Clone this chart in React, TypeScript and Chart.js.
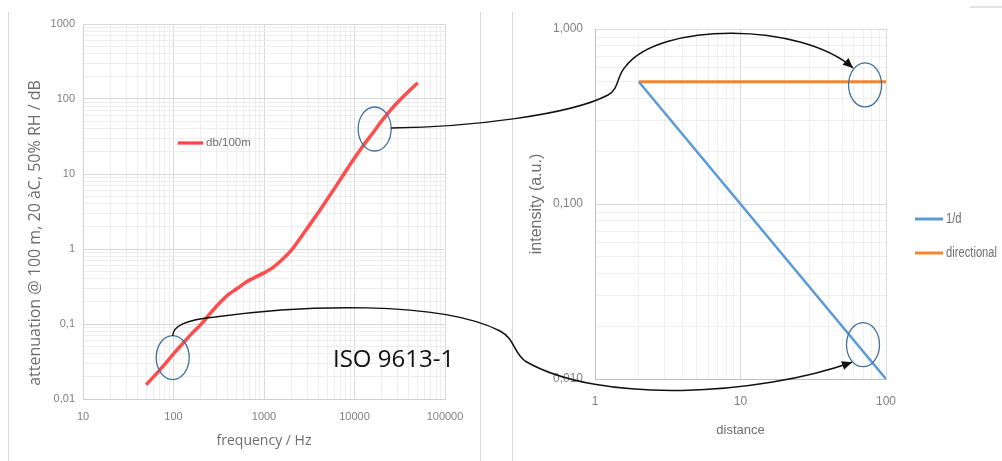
import React, { useEffect, useRef } from 'react';
import { Chart, registerables } from 'chart.js';

Chart.register(...registerables);
Chart.defaults.font.family = '"Liberation Sans", Arial, sans-serif';

// ---------- data: left chart (ISO 9613-1 attenuation) ----------
const FREQ_HZ = [50, 63, 80, 100, 125, 160, 200, 250, 315, 400, 500, 630, 800, 1000, 1250, 1600, 2000, 2500, 3150, 4000, 5000, 6300, 8000, 10000, 12500, 16000, 20000, 25000, 31500, 40000, 50000];
const ATTEN_DB_PER_100M = [0.0155, 0.021, 0.029, 0.04, 0.054, 0.075, 0.098, 0.135, 0.185, 0.245, 0.295, 0.36, 0.42, 0.48, 0.565, 0.73, 0.96, 1.38, 2.05, 3.08, 4.6, 7.0, 10.9, 16.3, 24, 35.5, 51, 71, 96, 128, 165];
const LEFT_SERIES_LABEL = 'db/100m';
const LEFT_X_TICKS = [10, 100, 1000, 10000, 100000];
const LEFT_X_LABELS = ['10', '100', '1000', '10000', '100000'];
const LEFT_Y_TICKS = [0.01, 0.1, 1, 10, 100, 1000];
const LEFT_Y_LABELS = ['0,01', '0,1', '1', '10', '100', '1000'];
const LEFT_X_TITLE = 'frequency / Hz';
const LEFT_Y_TITLE = 'attenuation @ 100 m, 20 àC, 50% RH / dB';

// ---------- data: right chart (intensity vs distance) ----------
const DISTANCE = [2, 100];
const INV_D = [0.5, 0.01];
const DIRECTIONAL = [0.5, 0.5];
const RIGHT_SERIES_LABELS = ['1/d', 'directional'];
const RIGHT_X_TICKS = [1, 10, 100];
const RIGHT_X_LABELS = ['1', '10', '100'];
const RIGHT_Y_TICKS = [0.01, 0.1, 1];
const RIGHT_Y_LABELS = ['0,010', '0,100', '1,000'];
const RIGHT_X_TITLE = 'distance';
const RIGHT_Y_TITLE = 'intensity (a.u.)';

// ---------- annotation anchors (data coordinates) ----------
const MARK_HIGH_FREQ = [16700, 39.8];
const MARK_LOW_FREQ = [98, 0.0357];
const MARK_DIRECTIONAL = [71.8, 0.479];
const MARK_SPHERICAL = [69.5, 0.0157];
const ANNOTATION_TEXT = 'ISO 9613-1';

const RIGHT_OFFSET = 512;

function logGrid(min: number, max: number) {
  const out: number[] = [];
  const e0 = Math.round(Math.log10(min));
  const e1 = Math.round(Math.log10(max));
  for (let e = e0; e < e1; e++) for (let m = 1; m < 10; m++) out.push(m * Math.pow(10, e));
  out.push(max);
  return out;
}
function isDecade(v: number) {
  const l = Math.log10(v);
  return Math.abs(l - Math.round(l)) < 1e-6;
}
function labelFor(v: number, ticks: number[], labels: string[]) {
  for (let i = 0; i < ticks.length; i++) {
    if (Math.abs(Math.log10(v) - Math.log10(ticks[i])) < 1e-6) return labels[i];
  }
  return '';
}
const gridColor = (major: string, minor: string) => (ctx: any) =>
  ctx.tick && isDecade(ctx.tick.value) ? major : minor;

const leftPlugin = {
  id: 'leftExtras',
  afterDraw(chart: any) {
    const { ctx } = chart;
    ctx.save();
    ctx.translate(35, 233);
    ctx.rotate(-Math.PI / 2);
    ctx.textAlign = 'center';
    ctx.textBaseline = 'middle';
    ctx.font = '16px "Open Sans", sans-serif';
    ctx.fillStyle = '#6e6e6e';
    ctx.fillText(LEFT_Y_TITLE, 0, 0);
    ctx.restore();
    // legend
    const ds = chart.data.datasets[0];
    ctx.save();
    ctx.lineCap = 'butt';
    ctx.strokeStyle = '#ff8a8a';
    ctx.lineWidth = 4;
    ctx.beginPath();
    ctx.moveTo(178, 143);
    ctx.lineTo(203, 143);
    ctx.stroke();
    ctx.strokeStyle = '#ff4545';
    ctx.lineWidth = 2;
    ctx.beginPath();
    ctx.moveTo(178, 143);
    ctx.lineTo(203, 143);
    ctx.stroke();
    ctx.font = '11.5px "Liberation Sans", sans-serif';
    ctx.fillStyle = '#6e6e6e';
    ctx.textAlign = 'left';
    ctx.textBaseline = 'middle';
    ctx.fillText(ds.label, 206, 143);
    ctx.restore();
  },
};

const rightPlugin = {
  id: 'rightExtras',
  afterDraw(chart: any) {
    const { ctx } = chart;
    const ys = [219, 253];
    ctx.save();
    chart.data.datasets.forEach((ds: any, i: number) => {
      ctx.strokeStyle = ds.borderColor;
      ctx.lineWidth = 3;
      ctx.beginPath();
      ctx.moveTo(403, ys[i]);
      ctx.lineTo(431, ys[i]);
      ctx.stroke();
      ctx.save();
      ctx.translate(434, ys[i]);
      ctx.scale(0.8, 1);
      ctx.font = '14px "Liberation Sans", sans-serif';
      ctx.fillStyle = '#6e6e6e';
      ctx.textAlign = 'left';
      ctx.textBaseline = 'middle';
      ctx.fillText(ds.label, 0, 0);
      ctx.restore();
    });
    ctx.restore();
  },
};

function leftConfig(): any {
  return {
    type: 'line',
    data: {
      datasets: [
        {
          label: LEFT_SERIES_LABEL,
          data: FREQ_HZ.map((f, i) => ({ x: f, y: ATTEN_DB_PER_100M[i] })),
          borderColor: '#ff4d4d',
          borderWidth: 3.5,
          pointRadius: 0,
          cubicInterpolationMode: 'monotone',
          fill: false,
        },
      ],
    },
    options: {
      animation: false,
      responsive: false,
      layout: { padding: { left: 0, right: 35, top: 24, bottom: 0 } },
      plugins: { legend: { display: false }, tooltip: { enabled: false } },
      scales: {
        x: {
          type: 'logarithmic',
          min: 10,
          max: 100000,
          afterBuildTicks: (s: any) => { s.ticks = logGrid(10, 100000).map((v) => ({ value: v })); },
          afterFit: (s: any) => { s.height = 62; },
          grid: { color: gridColor('#d9d9d9', '#eeeeee'), drawTicks: false },
          border: { color: '#cfcfcf' },
          ticks: {
            autoSkip: false, maxRotation: 0, padding: 11, color: '#808080',
            font: { size: 11 },
            callback: (v: number) => labelFor(v, LEFT_X_TICKS, LEFT_X_LABELS),
          },
          title: {
            display: true, text: LEFT_X_TITLE, color: '#6e6e6e',
            font: { size: 14, family: '"Open Sans", sans-serif' },
            padding: { top: 0, bottom: 12 },
          },
        },
        y: {
          type: 'logarithmic',
          min: 0.01,
          max: 1000,
          afterBuildTicks: (s: any) => { s.ticks = logGrid(0.01, 1000).map((v) => ({ value: v })); },
          afterFit: (s: any) => { s.width = 83; },
          grid: { color: gridColor('#d9d9d9', '#eeeeee'), drawTicks: false },
          border: { color: '#cfcfcf' },
          ticks: {
            autoSkip: false, padding: 8, color: '#808080',
            font: { size: 11 },
            callback: (v: number) => labelFor(v, LEFT_Y_TICKS, LEFT_Y_LABELS),
          },
        },
      },
    },
    plugins: [leftPlugin],
  };
}

function rightConfig(): any {
  return {
    type: 'line',
    data: {
      datasets: [
        {
          label: RIGHT_SERIES_LABELS[0],
          data: DISTANCE.map((d, i) => ({ x: d, y: INV_D[i] })),
          borderColor: '#5b9bd5',
          borderWidth: 2.5,
          pointRadius: 0,
          fill: false,
        },
        {
          label: RIGHT_SERIES_LABELS[1],
          data: DISTANCE.map((d, i) => ({ x: d, y: DIRECTIONAL[i] })),
          borderColor: '#f5842c',
          borderWidth: 3,
          pointRadius: 0,
          fill: false,
        },
      ],
    },
    options: {
      animation: false,
      responsive: false,
      layout: { padding: { left: 0, right: 116, top: 29, bottom: 0 } },
      plugins: { legend: { display: false }, tooltip: { enabled: false } },
      scales: {
        x: {
          type: 'logarithmic',
          min: 1,
          max: 100,
          afterBuildTicks: (s: any) => { s.ticks = logGrid(1, 100).map((v) => ({ value: v })); },
          afterFit: (s: any) => { s.height = 82; },
          grid: { color: gridColor('#d9d9d9', '#efefef'), drawTicks: false },
          border: { color: '#bfbfbf' },
          ticks: {
            autoSkip: false, maxRotation: 0, padding: 15, color: '#808080',
            font: { size: 12 },
            callback: (v: number) => labelFor(v, RIGHT_X_TICKS, RIGHT_X_LABELS),
          },
          title: {
            display: true, text: RIGHT_X_TITLE, color: '#6e6e6e',
            font: { size: 13 },
            padding: { top: 0, bottom: 23 },
          },
        },
        y: {
          type: 'logarithmic',
          min: 0.01,
          max: 1,
          afterBuildTicks: (s: any) => { s.ticks = logGrid(0.01, 1).map((v) => ({ value: v })); },
          afterFit: (s: any) => { s.width = 83; },
          grid: { color: gridColor('#d9d9d9', '#efefef'), drawTicks: false },
          border: { color: '#bfbfbf' },
          ticks: {
            autoSkip: false, padding: 12, color: '#808080',
            font: { size: 12 },
            callback: (v: number) => labelFor(v, RIGHT_Y_TICKS, RIGHT_Y_LABELS),
          },
          title: {
            display: true, text: RIGHT_Y_TITLE, color: '#6e6e6e',
            font: { size: 16 },
            padding: { top: 15, bottom: 0 },
          },
        },
      },
    },
    plugins: [rightPlugin],
  };
}

function arrowHead(ctx: CanvasRenderingContext2D, fx: number, fy: number, tx: number, ty: number) {
  const a = Math.atan2(ty - fy, tx - fx);
  const L = 10, W = 4.5;
  ctx.beginPath();
  ctx.moveTo(tx, ty);
  ctx.lineTo(tx - L * Math.cos(a) + W * Math.sin(a), ty - L * Math.sin(a) - W * Math.cos(a));
  ctx.lineTo(tx - L * Math.cos(a) - W * Math.sin(a), ty - L * Math.sin(a) + W * Math.cos(a));
  ctx.closePath();
  ctx.fill();
}

function drawOverlay(cv: HTMLCanvasElement, left: any, right: any) {
  const ctx = cv.getContext('2d')!;
  ctx.clearRect(0, 0, cv.width, cv.height);
  // panel borders
  ctx.strokeStyle = '#d9d9d9';
  ctx.lineWidth = 1;
  [8.5, 480.5, 512.5].forEach((x) => {
    ctx.beginPath();
    ctx.moveTo(x, 12);
    ctx.lineTo(x, 461);
    ctx.stroke();
  });
  ctx.strokeStyle = '#e2e2e2';
  ctx.lineWidth = 2;
  ctx.beginPath();
  ctx.moveTo(970, 7);
  ctx.lineTo(1002, 7);
  ctx.stroke();

  const L = (p: number[]) => ({ x: left.scales.x.getPixelForValue(p[0]), y: left.scales.y.getPixelForValue(p[1]) });
  const R = (p: number[]) => ({ x: RIGHT_OFFSET + right.scales.x.getPixelForValue(p[0]), y: right.scales.y.getPixelForValue(p[1]) });
  const e1 = L(MARK_HIGH_FREQ);
  const e2 = L(MARK_LOW_FREQ);
  const e3 = R(MARK_DIRECTIONAL);
  const e4 = R(MARK_SPHERICAL);

  ctx.strokeStyle = '#41719c';
  ctx.lineWidth = 1.3;
  [e1, e2, e3, e4].forEach((e) => {
    ctx.beginPath();
    ctx.ellipse(e.x, e.y, 16.5, 22, 0, 0, Math.PI * 2);
    ctx.stroke();
  });

  ctx.strokeStyle = '#111';
  ctx.fillStyle = '#111';
  ctx.lineWidth = 1.5;
  // upper arrow
  const s1 = { x: e1.x + 16.5, y: e1.y - 1 };
  const t1 = { x: e3.x - 12, y: e3.y - 17 };
  ctx.beginPath();
  ctx.moveTo(s1.x, s1.y);
  ctx.bezierCurveTo(470, 127, 570, 115, 608, 95);
  ctx.bezierCurveTo(620, 88, 616, 76, 626, 66);
  ctx.bezierCurveTo(660, 22, 800, 22, t1.x, t1.y);
  ctx.stroke();
  arrowHead(ctx, 800, 22, t1.x, t1.y);
  // lower arrow
  const s2 = { x: e2.x, y: e2.y - 21.5 };
  const t2 = { x: e4.x - 11, y: e4.y + 17.5 };
  ctx.beginPath();
  ctx.moveTo(s2.x, s2.y);
  ctx.bezierCurveTo(173, 326, 185, 320, 215, 317);
  ctx.bezierCurveTo(300, 305, 440, 300, 500, 331);
  ctx.bezierCurveTo(515, 339, 513, 352, 525, 361);
  ctx.bezierCurveTo(600, 405, 760, 395, t2.x, t2.y);
  ctx.stroke();
  arrowHead(ctx, 760, 395, t2.x, t2.y);

  ctx.font = '24px "Open Sans", sans-serif';
  ctx.fillStyle = '#111';
  ctx.textAlign = 'left';
  ctx.textBaseline = 'alphabetic';
  ctx.fillText(ANNOTATION_TEXT, 333, 367);
}

export default function App() {
  const leftRef = useRef<HTMLCanvasElement>(null);
  const rightRef = useRef<HTMLCanvasElement>(null);
  const overRef = useRef<HTMLCanvasElement>(null);

  useEffect(() => {
    const left = new Chart(leftRef.current!, leftConfig());
    const right = new Chart(rightRef.current!, rightConfig());
    drawOverlay(overRef.current!, left, right);
    return () => {
      left.destroy();
      right.destroy();
    };
  }, []);

  return (
    <div style={{ position: 'absolute', left: 0, top: 0, width: 1002, height: 461, background: '#fff', overflow: 'hidden' }}>
      <canvas ref={leftRef} width={480} height={461} style={{ position: 'absolute', left: 0, top: 0, width: 480, height: 461 }} />
      <canvas ref={rightRef} width={490} height={461} style={{ position: 'absolute', left: RIGHT_OFFSET, top: 0, width: 490, height: 461 }} />
      <canvas ref={overRef} width={1002} height={461} style={{ position: 'absolute', left: 0, top: 0, width: 1002, height: 461, pointerEvents: 'none' }} />
    </div>
  );
}
